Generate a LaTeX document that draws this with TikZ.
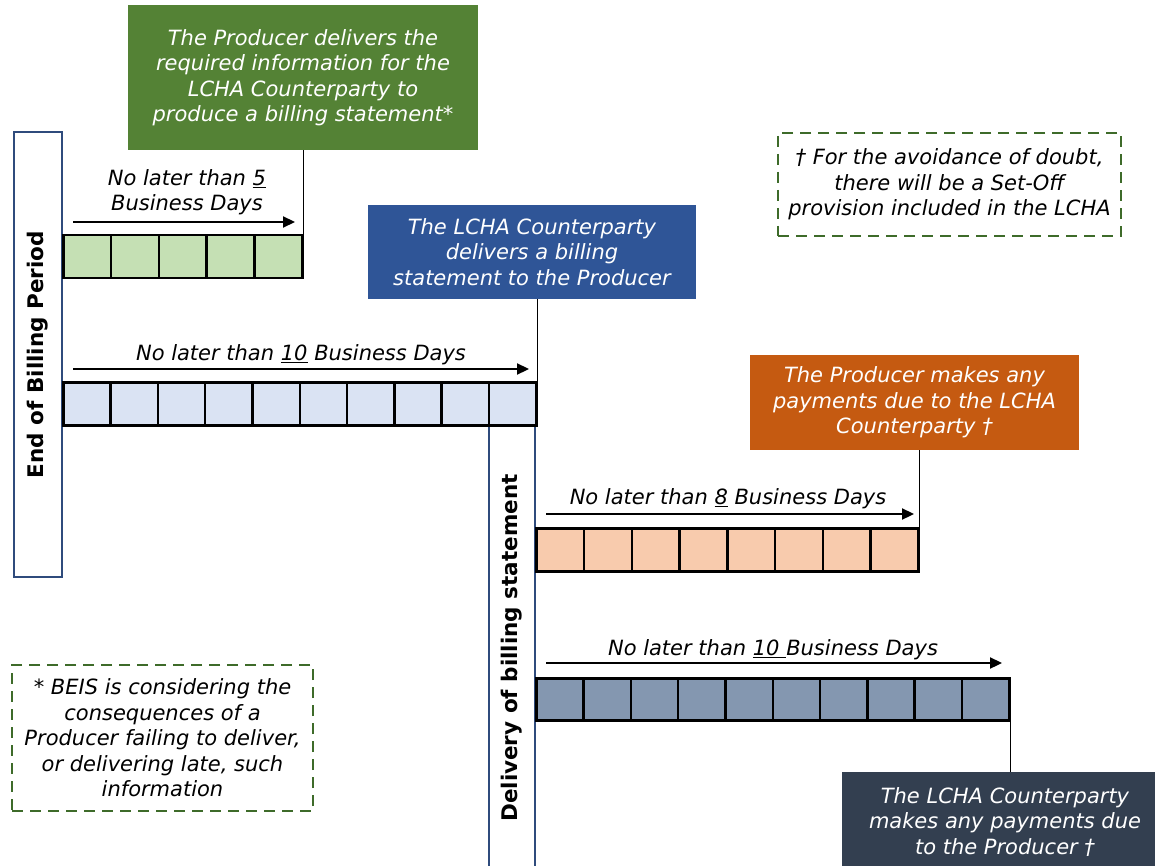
\documentclass[tikz,border=0pt]{standalone}
\usepackage{fontspec}
\setmainfont{DejaVu Sans}
\usetikzlibrary{arrows.meta}
\definecolor{boxgreen}{HTML}{548235}
\definecolor{boxblue}{HTML}{2F5597}
\definecolor{boxorange}{HTML}{C55A11}
\definecolor{boxdark}{HTML}{333F50}
\definecolor{cellgreen}{HTML}{C5E0B4}
\definecolor{cellblue}{HTML}{DAE3F3}
\definecolor{cellorange}{HTML}{F8CBAD}
\definecolor{cellslate}{HTML}{8497B0}
\definecolor{barblue}{HTML}{2F4B7C}
\definecolor{dashgreen}{HTML}{3E6B2A}
\tikzset{
  base/.style={font=\fontsize{21}{25.5}\selectfont\itshape},
  infobox/.style={base, text=white, align=center, inner sep=0pt},
  cell/.style={draw=black, line width=2.5pt, minimum height=43pt, inner sep=0pt, anchor=north west},
  bar/.style={draw=barblue, line width=2.2pt, fill=white, rotate=90, inner sep=0pt,
              font=\fontsize{21.5}{25}\selectfont\bfseries},
  note/.style={base, draw=dashgreen, line width=2.2pt, dash pattern=on 11pt off 7pt, align=center, inner sep=0pt},
  lbl/.style={base, align=center, inner sep=0pt},
  timearrow/.style={line width=2.2pt, -{Triangle[length=12pt,width=11pt]}},
  link/.style={line width=1.8pt, draw=black}
}
\begin{document}
\begin{tikzpicture}[x=1pt,y=-1pt]
\clip (0,0) rectangle (1155,866);
\useasboundingbox (0,0) rectangle (1155,866);
\fill[white] (0,0) rectangle (1155,866);

% vertical bars
\node[bar, minimum width=445pt, minimum height=48pt] (endbar) at (38,354.5) {End of Billing Period};
\node[bar, minimum width=448pt, minimum height=46pt] (delbar) at (512,648) {Delivery of billing statement};

% boxes
\node[infobox, fill=boxgreen, minimum width=350pt, minimum height=145pt] (gbox) at (303,77.5)
  {The Producer delivers the\\required information for the\\LCHA Counterparty to\\produce a billing statement*};
\node[infobox, fill=boxblue, minimum width=328pt, minimum height=94pt] (bbox) at (532,252)
  {The LCHA Counterparty\\delivers a billing\\statement to the Producer};
\node[infobox, fill=boxorange, minimum width=329pt, minimum height=95pt] (obox) at (914.5,402.5)
  {The Producer makes any\\payments due to the LCHA\\Counterparty †};
\node[infobox, fill=boxdark, minimum width=326pt, minimum height=100pt] (dbox) at (1005,822)
  {The LCHA Counterparty\\makes any payments due\\to the Producer †};

% notes
\node[note, minimum width=343pt, minimum height=103pt] (note1) at (949.5,184.5)
  {† For the avoidance of doubt,\\there will be a Set-Off\\provision included in the LCHA};
\node[note, minimum width=301pt, minimum height=146pt] (note2) at (162.5,738)
  {* BEIS is considering the\\consequences of a\\Producer failing to deliver,\\or delivering late, such\\information};

% cell rows
\foreach \i in {1,...,5}
  \node[cell, fill=cellgreen, minimum width=47.8pt] (ga\i) at ({62+(\i-1)*47.8},234) {};
\foreach \i in {1,...,10}
  \node[cell, fill=cellblue, minimum width=47.3pt] (ba\i) at ({62+(\i-1)*47.3},381) {};
\foreach \i in {1,...,8}
  \node[cell, fill=cellorange, minimum width=47.75pt] (oa\i) at ({535+(\i-1)*47.75},527) {};
\foreach \i in {1,...,10}
  \node[cell, fill=cellslate, minimum width=47.3pt, minimum height=42pt] (da\i) at ({535+(\i-1)*47.3},677) {};

% connectors from boxes to last cells
\draw[link] (gbox.south -| ga5.east) -- (ga5.north east);
\draw[link] (bbox.south -| ba10.east) -- (ba10.north east);
\draw[link] (obox.south -| oa8.east) -- (oa8.north east);
\draw[link] (da10.south east) -- (dbox.north -| da10.east);

% time arrows
\coordinate (a1s) at (73,222);  \coordinate (a1e) at (295,222);
\coordinate (a2s) at (73,369);  \coordinate (a2e) at (529,369);
\coordinate (a3s) at (546,514); \coordinate (a3e) at (914,514);
\coordinate (a4s) at (546,663); \coordinate (a4e) at (1002,663);
\draw[timearrow] (a1s) -- (a1e);
\draw[timearrow] (a2s) -- (a2e);
\draw[timearrow] (a3s) -- (a3e);
\draw[timearrow] (a4s) -- (a4e);

% arrow labels
\node[lbl] (l1) at (187,192) {No later than \underline{5}\\Business Days};
\node[lbl] (l2) at (301,355) {No later than \underline{10} Business Days};
\node[lbl] (l3) at (728,499) {No later than \underline{8} Business Days};
\node[lbl] (l4) at (773,650) {No later than \underline{10\ }Business Days};
\end{tikzpicture}
\end{document}
